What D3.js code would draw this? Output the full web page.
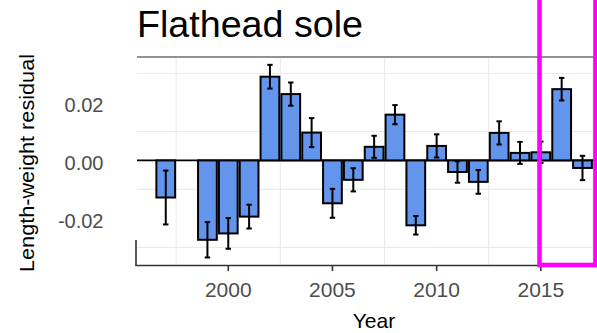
<!DOCTYPE html>
<html><head><meta charset="utf-8">
<script src="https://cdn.jsdelivr.net/npm/d3@7"></script>
<style>body{margin:0;background:#fff}svg{display:block}text{font-family:Arial,"Liberation Sans",sans-serif}</style>
</head><body>
<script>
const years = [1997,1999,2000,2001,2002,2003,2004,2005,2006,2007,2008,2009,2010,2011,2012,2013,2014,2015,2016,2017];
const residuals = [-0.0128,-0.0274,-0.0252,-0.0194,0.0289,0.0229,0.0096,-0.0148,-0.0067,0.0047,0.0158,-0.0224,0.0050,-0.0040,-0.0074,0.0095,0.0026,0.0028,0.0246,-0.0026];
const stdErrors = [0.0093,0.0061,0.0053,0.0041,0.0041,0.0040,0.0050,0.0050,0.0040,0.0038,0.0033,0.0032,0.0040,0.0037,0.0041,0.0040,0.0038,0.0037,0.0039,0.0042];
const xTicks = [2000,2005,2010,2015];
const xGrid = [1997.5,2002.5,2007.5,2012.5,2017.5];
const yTicks = [0.02,0.00,-0.02];
const yGrid = [0.03,0.01,-0.01,-0.03];
const highlightFrom = 2015;
const title = "Flathead sole";

const W=597,H=333;
const svg=d3.select("body").append("svg").attr("width",W).attr("height",H);
const x=d3.scaleLinear().domain([1995.62,2017.6]).range([137,595]);
const y=d3.scaleLinear().domain([-0.0361,0.0357]).range([265,57]);
const bw = x(1.9)-x(1);

// grid
svg.append("g").selectAll("line").data(yGrid).join("line")
  .attr("x1",137).attr("x2",594).attr("y1",d=>y(d)).attr("y2",d=>y(d))
  .attr("stroke","#ebebeb").attr("stroke-width",1.1);
svg.append("g").selectAll("line").data(xGrid).join("line")
  .attr("x1",d=>x(d)).attr("x2",d=>x(d)).attr("y1",57).attr("y2",265)
  .attr("stroke","#ebebeb").attr("stroke-width",1.1);

// top border
svg.append("line").attr("x1",137).attr("x2",595).attr("y1",57).attr("y2",57)
  .attr("stroke","#6e6e6e").attr("stroke-width",1.5);

// zero line
svg.append("line").attr("x1",137).attr("x2",595).attr("y1",y(0)).attr("y2",y(0))
  .attr("stroke","#000").attr("stroke-width",1.8);

const data = years.map((yr,i)=>({yr,v:residuals[i],se:stdErrors[i]}));

// bars
svg.append("g").selectAll("rect").data(data).join("rect")
  .attr("x",d=>x(d.yr)-bw/2).attr("width",bw)
  .attr("y",d=>y(Math.max(0,d.v))).attr("height",d=>Math.abs(y(d.v)-y(0)))
  .attr("fill","#6495ed").attr("stroke","#000").attr("stroke-width",2);

// error bars
const eb = svg.append("g").attr("stroke","#000").attr("stroke-width",2);
eb.selectAll(".v").data(data).join("line")
  .attr("x1",d=>x(d.yr)).attr("x2",d=>x(d.yr))
  .attr("y1",d=>y(d.v+d.se)).attr("y2",d=>y(d.v-d.se));
eb.selectAll(".t").data(data).join("line")
  .attr("x1",d=>x(d.yr)-2.7).attr("x2",d=>x(d.yr)+2.7)
  .attr("y1",d=>y(d.v+d.se)).attr("y2",d=>y(d.v+d.se));
eb.selectAll(".b").data(data).join("line")
  .attr("x1",d=>x(d.yr)-2.7).attr("x2",d=>x(d.yr)+2.7)
  .attr("y1",d=>y(d.v-d.se)).attr("y2",d=>y(d.v-d.se));

// axes lines
svg.append("line").attr("x1",135.5).attr("x2",597).attr("y1",265.5).attr("y2",265.5)
  .attr("stroke","#333").attr("stroke-width",1.6);
svg.append("line").attr("x1",136).attr("x2",136).attr("y1",240).attr("y2",266)
  .attr("stroke","#333").attr("stroke-width",1.6);

// x ticks
svg.append("g").selectAll("line").data(xTicks).join("line")
  .attr("x1",d=>x(d)).attr("x2",d=>x(d)).attr("y1",266).attr("y2",271)
  .attr("stroke","#333").attr("stroke-width",1.6);
svg.append("g").selectAll("text").data(xTicks).join("text")
  .attr("x",d=>x(d)).attr("y",297.3).attr("text-anchor","middle")
  .attr("font-size",21).attr("fill","#4d4d4d").text(d=>d);

// y tick labels
const fmt = d => d3.format(".2f")(d).replace("\u2212","-");
svg.append("g").selectAll("text").data(yTicks).join("text")
  .attr("x",103.5).attr("y",d=>y(d)+10).attr("text-anchor","end")
  .attr("font-size",20).attr("fill","#4d4d4d").text(fmt);

// axis titles
svg.append("text").attr("x",374).attr("y",328).attr("text-anchor","middle")
  .attr("font-size",21).attr("fill","#000").text("Year");
svg.append("text").attr("transform","translate(33.5,163) rotate(-90)")
  .attr("text-anchor","middle").attr("font-size",21).attr("fill","#000")
  .attr("textLength",218).attr("lengthAdjust","spacingAndGlyphs")
  .text("Length-weight residual");

// title
svg.append("text").attr("x",137).attr("y",36.7).attr("font-size",36)
  .attr("fill","#000").attr("textLength",226).attr("lengthAdjust","spacingAndGlyphs")
  .text(title);

// highlight box
svg.append("rect").attr("x",x(highlightFrom)-1.3).attr("y",-10)
  .attr("width",595.5-(x(highlightFrom)-1.3)).attr("height",275)
  .attr("fill","none").attr("stroke","#ff00ff").attr("stroke-width",4.6);
</script>
</body></html>
